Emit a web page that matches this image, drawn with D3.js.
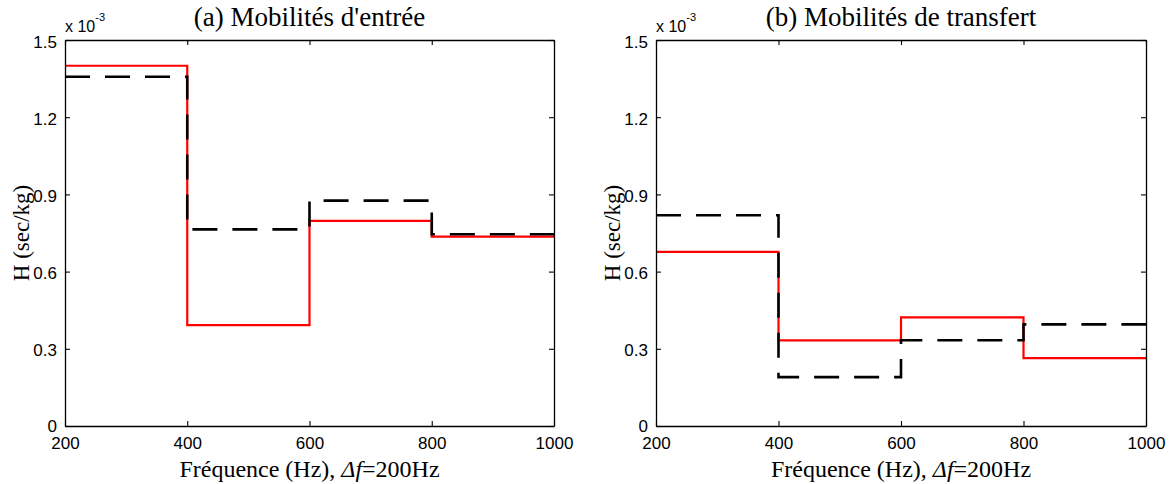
<!DOCTYPE html>
<html>
<head>
<meta charset="utf-8">
<script src="https://cdn.jsdelivr.net/npm/d3@7"></script>
<style>
  html, body { margin: 0; padding: 0; background: #fff; }
  svg { display: block; }
</style>
</head>
<body>
<svg id="chart" width="1173" height="484"></svg>
<script>
// ---- data (values in units of 1e-3 sec/kg) ----
const freqEdges = [200, 400, 600, 800, 1000];
const xTickValues = [200, 400, 600, 800, 1000];
const yTickValues = [0, 0.3, 0.6, 0.9, 1.2, 1.5];
const yTickLabels = ["0", "0.3", "0.6", "0.9", "1.2", "1.5"];
const panelTitles = ["(a) Mobilités d'entrée", "(b) Mobilités de transfert"];
const inputRed = [1.400, 0.392, 0.797, 0.736];
const inputBlack = [1.357, 0.764, 0.876, 0.745];
const transferRed = [0.677, 0.333, 0.422, 0.264];
const transferBlack = [0.819, 0.190, 0.333, 0.395];

const svg = d3.select("#chart");

const panels = [
  { left: 65, right: 554, title: panelTitles[0], red: inputRed, black: inputBlack },
  { left: 656, right: 1146, title: panelTitles[1], red: transferRed, black: transferBlack }
];
const plotTop = 40, plotBottom = 426;
const serif = "'Liberation Serif', 'Times New Roman', serif";
const sans = "'Liberation Sans', Arial, sans-serif";

panels.forEach(p => {
  const x = d3.scaleLinear().domain([200, 1000]).range([p.left, p.right]);
  const y = d3.scaleLinear().domain([0, 1.5]).range([plotBottom, plotTop]);
  const g = svg.append("g");

  // step series
  const stepPts = vals => {
    const pts = vals.map((v, i) => [freqEdges[i], v]);
    pts.push([freqEdges[freqEdges.length - 1], vals[vals.length - 1]]);
    return pts;
  };
  const line = d3.line().x(d => x(d[0])).y(d => y(d[1])).curve(d3.curveStepAfter);

  g.append("path").attr("d", line(stepPts(p.red)))
    .attr("fill", "none").attr("stroke", "#ff0000").attr("stroke-width", 2.2);
  g.append("path").attr("d", line(stepPts(p.black)))
    .attr("fill", "none").attr("stroke", "#000").attr("stroke-width", 2.6)
    .attr("stroke-dasharray", "25,15");

  // axes (inward ticks, box)
  const tickLen = 5;
  const axB = d3.axisBottom(x).tickValues(xTickValues).tickSizeInner(-tickLen).tickSizeOuter(0).tickPadding(10).tickFormat(d3.format("d"));
  const axT = d3.axisTop(x).tickValues(xTickValues).tickSizeInner(-tickLen).tickSizeOuter(0).tickFormat("");
  const axL = d3.axisLeft(y).tickValues(yTickValues).tickSizeInner(-tickLen).tickSizeOuter(0).tickPadding(8).tickFormat((d, i) => yTickLabels[i]);
  const axR = d3.axisRight(y).tickValues(yTickValues).tickSizeInner(-tickLen).tickSizeOuter(0).tickFormat("");

  const style = sel => {
    sel.selectAll("path.domain").attr("stroke", "#000").attr("stroke-width", 1.3);
    sel.selectAll(".tick line").attr("stroke", "#000").attr("stroke-width", 1.1);
    sel.selectAll(".tick text").attr("fill", "#000")
      .style("font-family", sans).style("font-size", "17px");
  };
  g.append("g").attr("transform", `translate(0,${plotBottom})`).call(axB).call(style)
    .selectAll(".tick text").attr("dy", "0.76em");
  g.append("g").attr("transform", `translate(0,${plotTop})`).call(axT).call(style);
  g.append("g").attr("transform", `translate(${p.left},0)`).call(axL).call(style)
    .selectAll(".tick text").attr("dy", d => d === 0 ? "0.3em" : "0.42em");
  g.append("g").attr("transform", `translate(${p.right},0)`).call(axR).call(style);

  // exponent label
  const ex = g.append("text").attr("x", p.left).attr("y", 32)
    .style("font-family", sans).style("font-size", "16px").attr("fill", "#000");
  ex.append("tspan").text("x 10");
  ex.append("tspan").attr("dy", -11).style("font-size", "11px").text("-3");

  // title
  g.append("text").attr("x", (p.left + p.right) / 2).attr("y", 26).attr("text-anchor", "middle")
    .style("font-family", serif).style("font-size", "27px")
    .attr("fill", "#000").text(p.title);

  // x label
  const xl = g.append("text").attr("x", (p.left + p.right) / 2).attr("y", 477).attr("text-anchor", "middle")
    .style("font-family", serif).style("font-size", "24px").attr("fill", "#000");
  xl.append("tspan").text("Fréquence (Hz), ");
  xl.append("tspan").style("font-style", "italic").text("Δf");
  xl.append("tspan").text("=200Hz");

  // y label
  g.append("text").attr("transform", `translate(${p.left - 36},${(plotTop + plotBottom) / 2}) rotate(-90)`)
    .attr("text-anchor", "middle")
    .style("font-family", serif).style("font-size", "23px")
    .attr("fill", "#000").text("H (sec/kg)");
});
</script>
</body>
</html>
